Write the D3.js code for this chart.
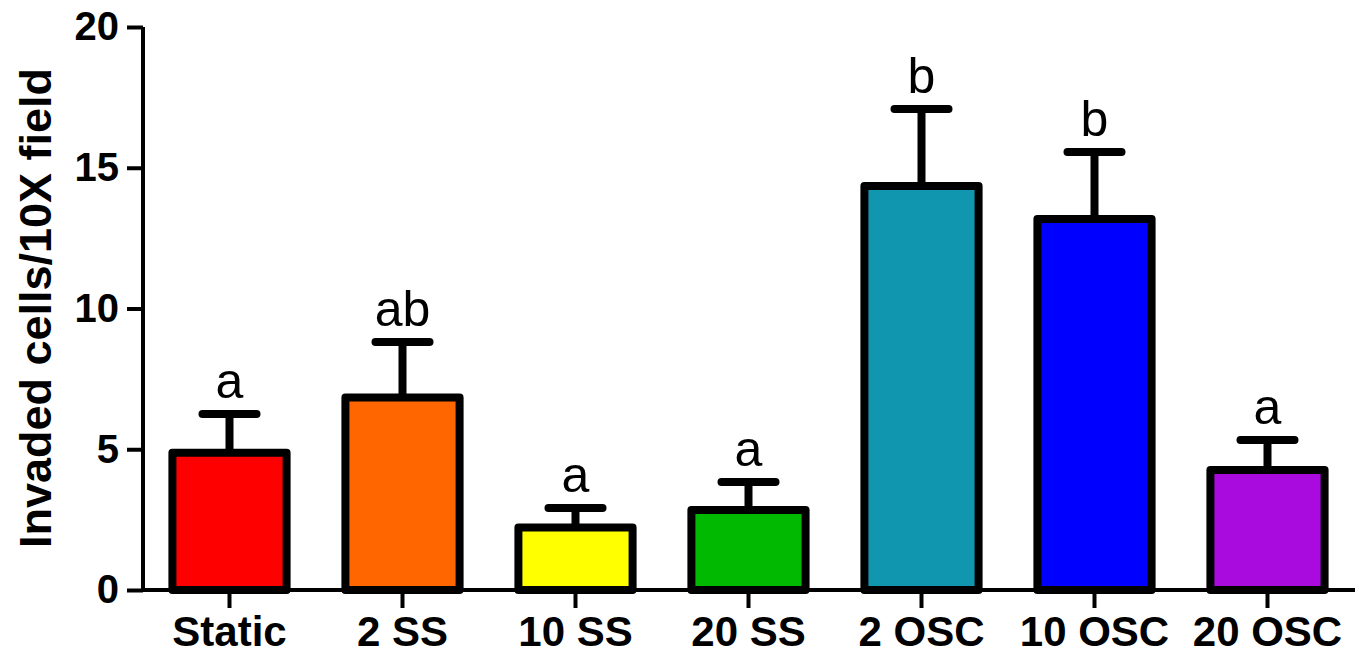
<!DOCTYPE html>
<html>
<head>
<meta charset="utf-8">
<script src="https://cdn.jsdelivr.net/npm/d3@7/dist/d3.min.js"></script>
<style>
  html, body { margin: 0; padding: 0; background: #fff; }
  svg { display: block; }
  text { font-family: "Liberation Sans", Arial, sans-serif; }
</style>
</head>
<body>
<svg id="chart" width="1363" height="658"></svg>
<script>
// Invasion counts per condition (mean and SEM), with significance letters
const categories = ["Static", "2 SS", "10 SS", "20 SS", "2 OSC", "10 OSC", "20 OSC"];
const means      = [4.88, 6.84, 2.22, 2.84, 14.35, 13.18, 4.26];
const errors     = [1.37, 1.97, 0.69, 1.00, 2.74, 2.38, 1.07];
const letters    = ["a", "ab", "a", "a", "b", "b", "a"];
const colors     = ["#ff0000", "#ff6600", "#ffff00", "#00b900", "#1196b0", "#0000ff", "#a90ade"];
const yTicks     = [0, 5, 10, 15, 20];
const yLabel     = "Invaded cells/10X field";

const svg = d3.select("#chart");

const x = d3.scaleBand()
  .domain(categories)
  .range([143, 1354])
  .paddingInner(0.34)
  .paddingOuter(0.17);

const y = d3.scaleLinear().domain([0, 20]).range([590, 27]);

const rows = categories.map((c, i) => ({
  cat: c, mean: means[i], err: errors[i], letter: letters[i], color: colors[i]
}));

// Bars
svg.append("g").selectAll("rect")
  .data(rows).join("rect")
  .attr("x", d => x(d.cat))
  .attr("y", d => y(d.mean))
  .attr("width", x.bandwidth())
  .attr("height", d => y(0) - y(d.mean))
  .attr("fill", d => d.color)
  .attr("stroke", "#000")
  .attr("stroke-width", 8)
  .attr("stroke-linejoin", "round");

// Error bars (upper only)
const eb = svg.append("g").attr("stroke", "#000").attr("stroke-width", 8).attr("stroke-linecap", "round");
eb.selectAll("line.stem")
  .data(rows).join("line")
  .attr("class", "stem")
  .attr("x1", d => x(d.cat) + x.bandwidth() / 2)
  .attr("x2", d => x(d.cat) + x.bandwidth() / 2)
  .attr("y1", d => y(d.mean))
  .attr("y2", d => y(d.mean + d.err))
  .attr("stroke-linecap", "butt");
eb.selectAll("line.cap")
  .data(rows).join("line")
  .attr("class", "cap")
  .attr("x1", d => x(d.cat) + x.bandwidth() / 2 - 27)
  .attr("x2", d => x(d.cat) + x.bandwidth() / 2 + 27)
  .attr("y1", d => y(d.mean + d.err))
  .attr("y2", d => y(d.mean + d.err));

// Significance letters
svg.append("g").selectAll("text")
  .data(rows).join("text")
  .attr("x", d => x(d.cat) + x.bandwidth() / 2)
  .attr("y", d => y(d.mean + d.err) - 16)
  .attr("text-anchor", "middle")
  .attr("font-size", 50)
  .attr("fill", "#000")
  .text(d => d.letter);

// Y axis
const yAxis = svg.append("g")
  .attr("transform", "translate(143,0)")
  .call(d3.axisLeft(y).tickValues(yTicks).tickSize(16).tickPadding(8).tickFormat(d3.format("d")));
yAxis.select(".domain").attr("d", `M0,${y(20)}V${y(0)}`).attr("stroke-width", 4).attr("stroke", "#000");
yAxis.selectAll(".tick line").attr("stroke-width", 4).attr("stroke", "#000");
yAxis.selectAll(".tick text")
  .attr("font-size", 40).attr("font-weight", "bold").attr("fill", "#000")
  .attr("font-family", "Liberation Sans, Arial, sans-serif");

// X axis
const xAxis = svg.append("g")
  .attr("transform", `translate(0,${y(0)})`)
  .call(d3.axisBottom(x).tickSize(18).tickPadding(8));
xAxis.select(".domain").attr("d", `M141,0H1355`).attr("stroke-width", 4).attr("stroke", "#000");
xAxis.selectAll(".tick line").attr("stroke-width", 4).attr("stroke", "#000");
xAxis.selectAll(".tick text")
  .attr("font-size", 42).attr("font-weight", "bold").attr("fill", "#000")
  .attr("font-family", "Liberation Sans, Arial, sans-serif");

// Y axis title
svg.append("text")
  .attr("transform", "translate(51,308) rotate(-90)")
  .attr("text-anchor", "middle")
  .attr("font-size", 45)
  .attr("font-weight", "bold")
  .attr("fill", "#000")
  .text(yLabel);
</script>
</body>
</html>
